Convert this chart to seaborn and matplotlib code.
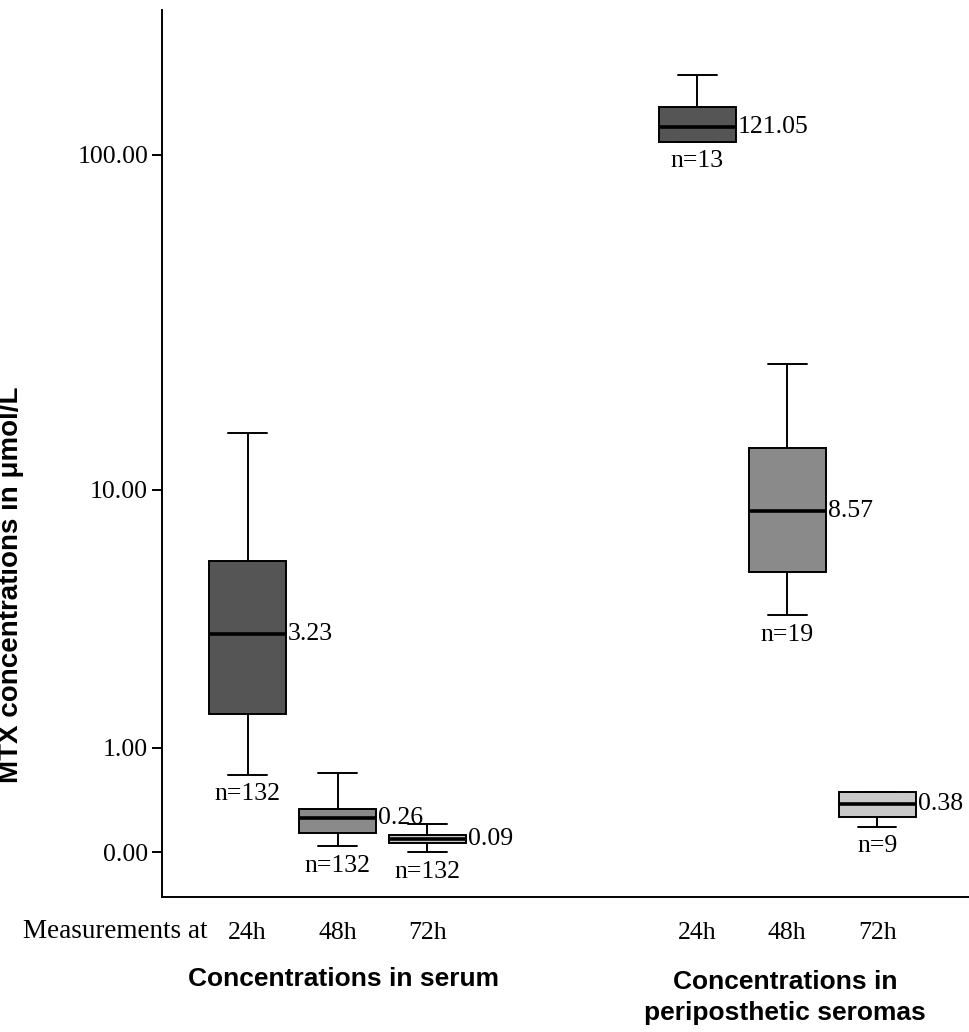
import numpy as np
import pandas as pd
import matplotlib
matplotlib.use("Agg")
import matplotlib.pyplot as plt
import seaborn as sns

# ---- data ----
groups = ["serum_24h", "serum_48h", "serum_72h", "seroma_24h", "seroma_48h", "seroma_72h"]
time_labels = ["24h", "48h", "72h", "24h", "48h", "72h"]
whisker_low = [0.67, 0.040, 0.00, 109.1, 3.80, 0.185]
q1 = [1.49, 0.139, 0.063, 109.1, 5.40, 0.266]
median = [3.23, 0.255, 0.093, 120.6, 8.55, 0.380]
q3 = [5.86, 0.335, 0.119, 137.8, 13.55, 0.494]
whisker_high = [15.0, 0.694, 0.204, 170.0, 24.3, 0.494]
median_labels = ["3.23", "0.26", "0.09", "121.05", "8.57", "0.38"]
n_labels = ["n=132", "n=132", "n=132", "n=13", "n=19", "n=9"]
box_colors = ["#555555", "#8a8a8a", "#c9c9c9", "#555555", "#8a8a8a", "#c9c9c9"]
y_ticks = [0, 1, 10, 100]
group_titles = ["Concentrations in serum", "Concentrations in", "periposthetic seromas"]

# long table: five points per group give exact quartiles with whis=(0, 100)
rows = []
for g, a, b, c, d, e in zip(groups, whisker_low, q1, median, q3, whisker_high):
    for v in (a, b, c, d, e):
        rows.append({"group": g, "value": v})
df = pd.DataFrame(rows)
order = groups[:3] + ["gap1", "gap2"] + groups[3:]

SERIF = ["Liberation Serif", "DejaVu Serif"]
SANS = ["Liberation Sans", "DejaVu Sans"]

sns.set_style("white")
plt.rcParams["font.family"] = SERIF
plt.rcParams["text.color"] = "black"
plt.rcParams["axes.labelcolor"] = "black"
plt.rcParams["xtick.color"] = "black"
plt.rcParams["ytick.color"] = "black"

fig = plt.figure(figsize=(9.69, 10.32), dpi=100)
ax = fig.add_axes([162 / 969, 1 - 897 / 1032, 1 - 162 / 969, (897 - 10) / 1032])


def fwd(x):
    x = np.asarray(x, dtype=float)
    return np.log10(np.clip(x + 1.0, 1e-6, None))


def inv(y):
    return 10.0 ** np.asarray(y, dtype=float) - 1.0


ax.set_yscale("function", functions=(fwd, inv))

box_w = 0.856
sns.boxplot(
    data=df, x="group", y="value", order=order, hue="group", hue_order=groups,
    palette=dict(zip(groups, box_colors)), saturation=1, dodge=False,
    width=box_w, whis=(0, 100), showfliers=False, legend=False,
    linecolor="black", linewidth=1.4,
    medianprops=dict(linewidth=2.6, color="black"),
    ax=ax,
)

ax.set_xlim(-0.951, 8.02)
ax.set_ylim(-0.256, 262.3)

ax.set_yticks(y_ticks)
ax.set_yticklabels([f"{v:.2f}" for v in y_ticks], fontsize=18.5, family=SERIF, color="black")
ax.yaxis.set_minor_locator(matplotlib.ticker.NullLocator())
ax.tick_params(axis="y", which="major", length=7, width=1.4, color="black",
               direction="out", left=True, pad=3)

pos = [order.index(g) for g in groups]
ax.set_xticks(pos)
ax.set_xticklabels(time_labels, fontsize=18.5, family=SERIF, color="black")
ax.tick_params(axis="x", which="major", length=0, pad=18)
ax.set_xticks([order.index("serum_48h"), order.index("seroma_48h")], minor=True)
ax.tick_params(axis="x", which="minor", length=7, width=1.4, color="black",
               direction="out", bottom=True)

ax.set_xlabel("")
ax.set_ylabel("")
for s in ["top", "right"]:
    ax.spines[s].set_visible(False)
for s in ["left", "bottom"]:
    ax.spines[s].set_color("black")
    ax.spines[s].set_linewidth(1.4)

# annotations: medians at right of box, n below lower whisker
for p, m, ml, lo, nl in zip(pos, median, median_labels, whisker_low, n_labels):
    ax.annotate(ml, xy=(p + box_w / 2, m), xytext=(1.5, 0), textcoords="offset points",
                ha="left", va="center", fontsize=18.5, family=SERIF, color="black")
    ax.annotate(nl, xy=(p, lo), xytext=(0, -14), textcoords="offset points",
                ha="center", va="center", fontsize=18.5, family=SERIF, color="black")

fig.text(23 / 969, 1 - 932 / 1032, "Measurements at", ha="left", va="center",
         fontsize=19.5, family=SERIF, color="black")
fig.text(344 / 969, 1 - 979 / 1032, group_titles[0], ha="center", va="center",
         fontsize=19, fontweight="bold", family=SANS, color="black")
fig.text(785 / 969, 1 - 982 / 1032, group_titles[1], ha="center", va="center",
         fontsize=19, fontweight="bold", family=SANS, color="black")
fig.text(785 / 969, 1 - 1013 / 1032, group_titles[2], ha="center", va="center",
         fontsize=19, fontweight="bold", family=SANS, color="black")
fig.text(11 / 969, 1 - 585 / 1032, "MTX concentrations in μmol/L", rotation=90,
         ha="center", va="center", fontsize=20, fontweight="bold", family=SANS,
         color="black")

fig.savefig("out.png", dpi=100)
